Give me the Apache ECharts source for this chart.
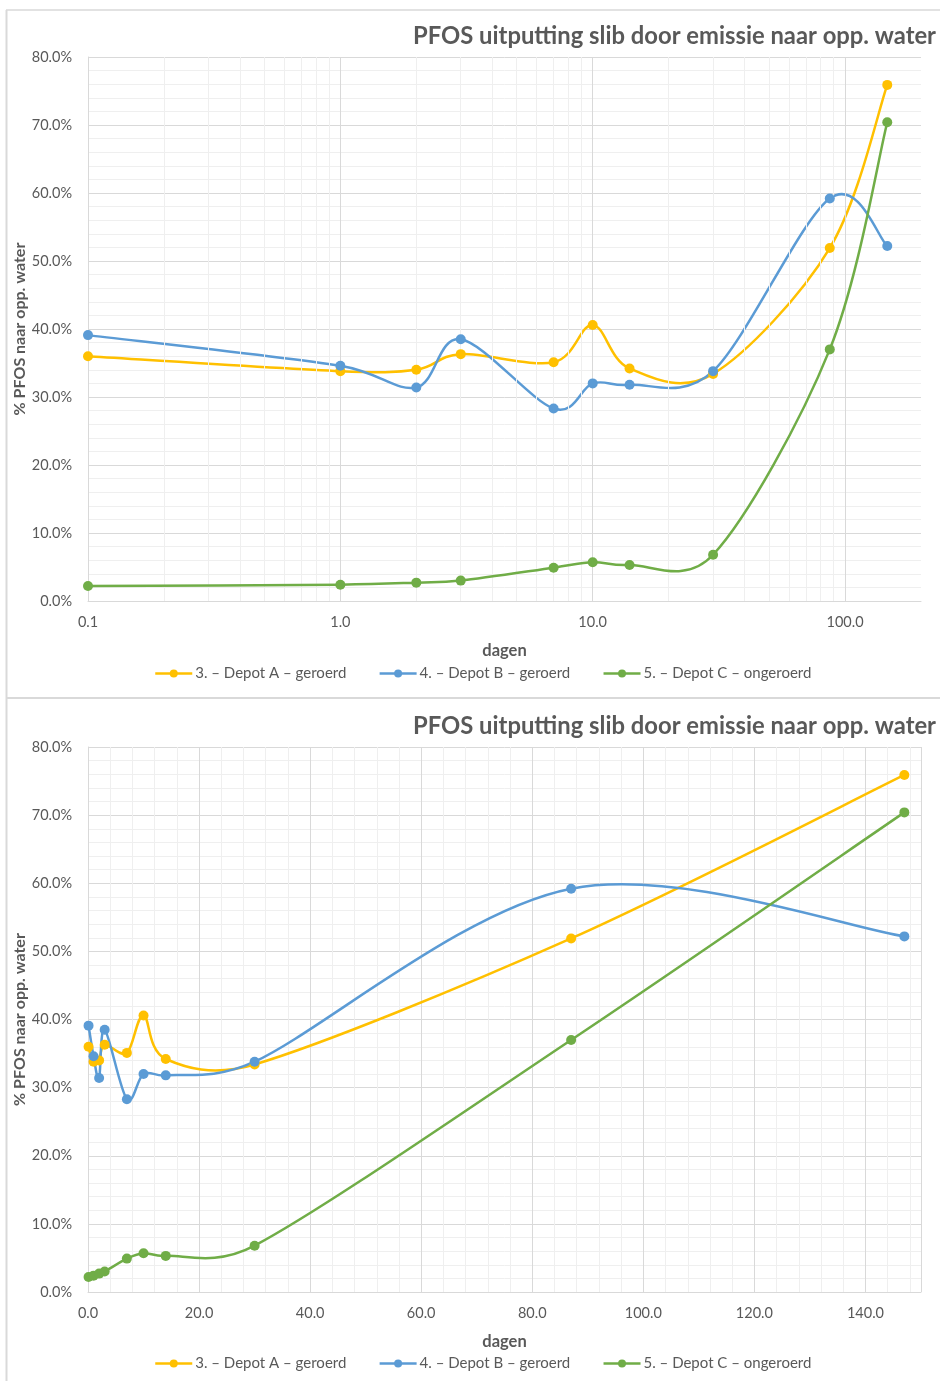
<!DOCTYPE html>
<html>
<head>
<meta charset="utf-8">
<script src="https://cdn.jsdelivr.net/npm/echarts@6/dist/echarts.min.js"></script>
<style>
  html, body { margin: 0; padding: 0; background: #fff; }
  #chart { width: 940px; height: 1381px; }
</style>
</head>
<body>
<div id="chart"></div>
<script>
// Sample days and PFOS depletion (% emitted to surface water) per depot
const days = [0.1, 1, 2, 3, 7, 10, 14, 30, 87, 147];
const depotA = [36.0, 33.8, 34.0, 36.3, 35.1, 40.6, 34.2, 33.4, 51.9, 75.9];
const depotB = [39.1, 34.6, 31.4, 38.5, 28.3, 32.0, 31.8, 33.8, 59.2, 52.2];
const depotC = [2.2, 2.4, 2.7, 3.0, 4.9, 5.7, 5.3, 6.8, 37.0, 70.4];

const seriesNames = ['3. \u2013 Depot A \u2013 geroerd', '4. \u2013 Depot B \u2013 geroerd', '5. \u2013 Depot C \u2013 ongeroerd'];
const seriesColors = ['#FFC000', '#5B9BD5', '#70AD47'];
const seriesValues = [depotA, depotB, depotC];

const titleText = 'PFOS uitputting slib door emissie naar opp. water';
const xName = 'dagen';
const yName = '% PFOS naar opp. water';

// Minor gridlines for the logarithmic day axis (2..9 within each decade)
const logMinorLines = [];
[0.1, 1, 10].forEach(function (d) {
  for (let k = 2; k <= 9; k++) logMinorLines.push({ xAxis: +(d * k).toPrecision(3) });
});

const FONT = 'Lato, "Open Sans", sans-serif';
const TXT = '#595959';
const MAJOR = '#d9d9d9';
const MINOR = '#efefef';

function pts(vals) { return days.map(function (d, i) { return [d, vals[i]]; }); }

// Spreadsheet-style smoothed polyline: cubic Bezier segments whose control arms
// follow the neighbouring chord, at most 1/6 of it and half of the segment length.
function smoothPathData(p) {
  function dist(a, b) { return Math.hypot(b[0] - a[0], b[1] - a[1]); }
  let d = 'M' + p[0][0] + ' ' + p[0][1];
  for (let i = 0; i < p.length - 1; i++) {
    const p0 = p[Math.max(i - 1, 0)], p1 = p[i], p2 = p[i + 1], p3 = p[Math.min(i + 2, p.length - 1)];
    const seg = dist(p1, p2);
    const c02 = dist(p0, p2), c13 = dist(p1, p3);
    const f1 = c02 > 0 ? Math.min(1 / 6, 0.5 * seg / c02) : 0;
    const f2 = c13 > 0 ? Math.min(1 / 6, 0.5 * seg / c13) : 0;
    const a = [p1[0] + (p2[0] - p0[0]) * f1, p1[1] + (p2[1] - p0[1]) * f1];
    const b = [p2[0] - (p3[0] - p1[0]) * f2, p2[1] - (p3[1] - p1[1]) * f2];
    d += ' C' + a[0] + ' ' + a[1] + ' ' + b[0] + ' ' + b[1] + ' ' + p2[0] + ' ' + p2[1];
  }
  return d;
}

function yAxisCfg(gridIndex) {
  return {
    type: 'value', gridIndex: gridIndex, min: 0, max: 80, interval: 10,
    name: yName, nameLocation: 'middle', nameGap: 60, nameMoveOverlap: false,
    nameTextStyle: { color: TXT, fontFamily: FONT, fontWeight: 'bold', fontSize: 16 },
    axisLine: { show: true, lineStyle: { color: MAJOR } },
    axisTick: { show: false },
    axisLabel: { color: TXT, fontFamily: FONT, fontSize: 14.5, margin: 16,
      formatter: function (v) { return v.toFixed(1) + '%'; } },
    splitLine: { lineStyle: { color: MAJOR, width: 1 } },
    minorTick: { show: false, splitNumber: 5 },
    minorSplitLine: { show: true, lineStyle: { color: MINOR, width: 1 } }
  };
}

function legendCfg(top) {
  return {
    top: top, left: 149, itemWidth: 37, itemHeight: 10, itemGap: 32,
    data: seriesNames,
    lineStyle: { opacity: 1, width: 2.5 },
    textStyle: { color: TXT, fontFamily: FONT, fontSize: 15, padding: [0, 0, 0, -2] }
  };
}

const series = [];
[0, 1].forEach(function (g) {
  seriesValues.forEach(function (vals, i) {
    // markers (the curve itself is drawn by the custom series below)
    series.push({
      name: seriesNames[i], type: 'line', xAxisIndex: g, yAxisIndex: g,
      data: pts(vals), symbol: 'circle', symbolSize: 10,
      color: seriesColors[i],
      lineStyle: { width: 2.5, color: seriesColors[i], opacity: 0 },
      itemStyle: { color: seriesColors[i] },
      z: 6 + i
    });
  });
});
[0, 1].forEach(function (g) {
  seriesValues.forEach(function (vals, i) {
    series.push({
      name: seriesNames[i], type: 'custom', xAxisIndex: g, yAxisIndex: g,
      data: pts(vals), encode: { x: 0, y: 1 }, z: 3 + i, silent: true,
      renderItem: function (params, api) {
        if (params.dataIndex !== 0) return null;
        const p = pts(vals).map(function (d) { return api.coord(d); });
        return {
          type: 'path',
          shape: { pathData: smoothPathData(p) },
          style: { fill: null, stroke: seriesColors[i], lineWidth: 2.5, lineJoin: 'round', lineCap: 'round' }
        };
      }
    });
  });
});
// Helper series carrying the log-axis gridlines
series.push({
  name: 'minor', type: 'line', xAxisIndex: 0, yAxisIndex: 0, data: [], z: 1, silent: true,
  markLine: {
    silent: true, symbol: ['none', 'none'], animation: false,
    label: { show: false },
    lineStyle: { color: MINOR, type: 'solid', width: 1 },
    emphasis: { disabled: true },
    data: logMinorLines
  }
});
series.push({
  name: 'major', type: 'line', xAxisIndex: 0, yAxisIndex: 0, data: [], z: 2, silent: true,
  markLine: {
    silent: true, symbol: ['none', 'none'], animation: false,
    label: { show: false },
    lineStyle: { color: MAJOR, type: 'solid', width: 1 },
    emphasis: { disabled: true },
    data: [{ xAxis: 1 }, { xAxis: 10 }, { xAxis: 100 }]
  }
});

const chart = echarts.init(document.getElementById('chart'), null, { renderer: 'canvas' });
chart.setOption({
  animation: false,
  backgroundColor: '#ffffff',
  textStyle: { fontFamily: FONT },
  title: [
    { text: titleText, right: -1, top: 19,
      textStyle: { color: TXT, fontFamily: FONT, fontWeight: 'bold', fontSize: 23.8 } },
    { text: titleText, right: -1, top: 709,
      textStyle: { color: TXT, fontFamily: FONT, fontWeight: 'bold', fontSize: 23.8 } }
  ],
  legend: [legendCfg(661), legendCfg(1351)],
  grid: [
    { left: 88, right: 19, top: 57, height: 544, outerBoundsMode: 'none', containLabel: false },
    { left: 88, right: 19, top: 747, height: 545, outerBoundsMode: 'none', containLabel: false }
  ],
  xAxis: [
    {
      type: 'log', gridIndex: 0, logBase: 10, min: 0.1, max: 200,
      name: xName, nameLocation: 'middle', nameGap: 41,
      nameTextStyle: { color: TXT, fontFamily: FONT, fontWeight: 'bold', fontSize: 16.5 },
      axisLine: { show: true, lineStyle: { color: MAJOR } },
      axisTick: { show: false },
      axisLabel: { color: TXT, fontFamily: FONT, fontSize: 14.5, margin: 14, showMaxLabel: false,
        formatter: function (v) { return (+v).toFixed(1); } },
      splitLine: { show: false }
    },
    {
      type: 'value', gridIndex: 1, min: 0, max: 150, interval: 20,
      name: xName, nameLocation: 'middle', nameGap: 41,
      nameTextStyle: { color: TXT, fontFamily: FONT, fontWeight: 'bold', fontSize: 16.5 },
      axisLine: { show: true, lineStyle: { color: MAJOR } },
      axisTick: { show: false },
      axisLabel: { color: TXT, fontFamily: FONT, fontSize: 14.5, margin: 14, showMaxLabel: false,
        formatter: function (v) { return v.toFixed(1); } },
      splitLine: { show: true, lineStyle: { color: MAJOR, width: 1 } },
      minorTick: { show: false, splitNumber: 5 },
      minorSplitLine: { show: true, lineStyle: { color: MINOR, width: 1 } }
    }
  ],
  yAxis: [yAxisCfg(0), yAxisCfg(1)],
  series: series,
  graphic: [
    { type: 'line', shape: { x1: 6, y1: 10, x2: 940, y2: 10 }, style: { stroke: MAJOR, lineWidth: 1.5 }, silent: true },
    { type: 'line', shape: { x1: 6.5, y1: 10, x2: 6.5, y2: 1381 }, style: { stroke: MAJOR, lineWidth: 2 }, silent: true },
    { type: 'line', shape: { x1: 6, y1: 698, x2: 940, y2: 698 }, style: { stroke: MAJOR, lineWidth: 2 }, silent: true }
  ]
});
</script>
</body>
</html>
